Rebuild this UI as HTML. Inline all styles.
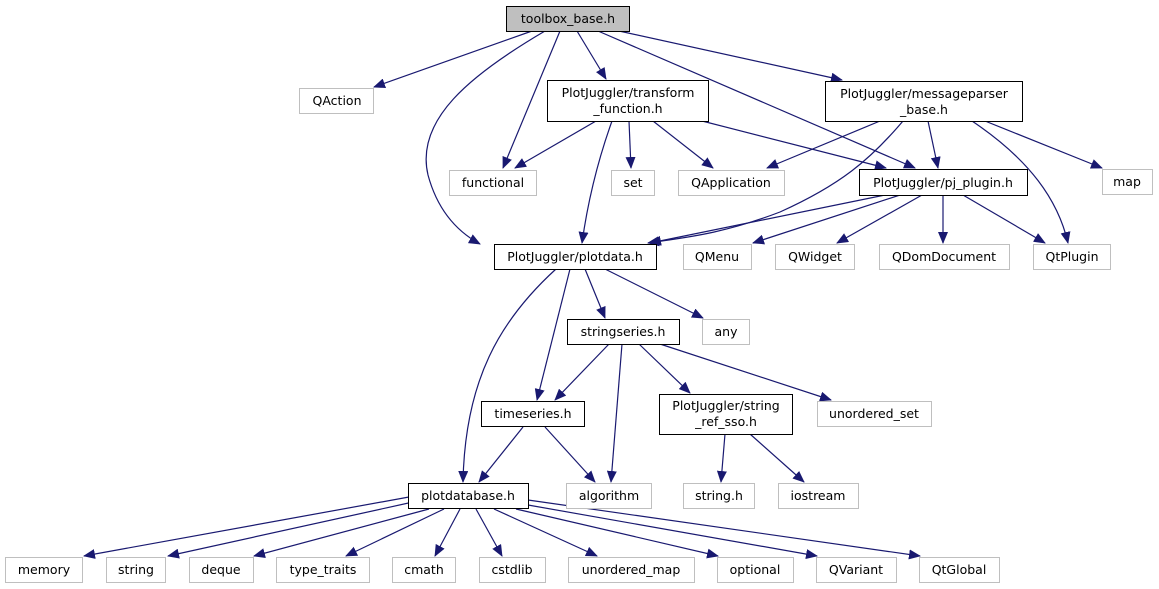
<!DOCTYPE html>
<html><head><meta charset="utf-8"><style>
html,body{margin:0;padding:0;background:#fff;}
svg{display:block;font-family:"DejaVu Sans","Liberation Sans",sans-serif;}
</style></head><body>
<svg width="1159" height="589" viewBox="0 0 1159 589" xmlns="http://www.w3.org/2000/svg">
<defs><marker id="a" markerWidth="12" markerHeight="10" refX="11" refY="5" orient="auto" markerUnits="userSpaceOnUse"><path d="M0,0 L12,5 L0,10 z" fill="#191970"/></marker></defs>
<g fill="none" stroke="#191970" stroke-width="1.2" marker-end="url(#a)">
<path d="M532,31 L374,87"/>
<path d="M545,31 C470,75 415,120 428,175 C438,212 458,232 480,244"/>
<path d="M560,31 L503,168"/>
<path d="M577,31 L606,79"/>
<path d="M598,31 L915,168"/>
<path d="M619,31 L842,80"/>
<path d="M596,121 L515,168"/>
<path d="M612,121 C598,160 588,200 582,243"/>
<path d="M629,121 L631,168"/>
<path d="M653,121 L713,168"/>
<path d="M702,121 L886,168"/>
<path d="M880,121 L767,168"/>
<path d="M903,121 C870,160 840,185 780,212 C720,235 680,238 648,243"/>
<path d="M928,121 L938,168"/>
<path d="M972,121 C1030,160 1058,200 1068,243"/>
<path d="M985,121 L1102,168"/>
<path d="M885,195 L650,243"/>
<path d="M900,195 L753,243"/>
<path d="M922,195 L837,243"/>
<path d="M943,195 L943,243"/>
<path d="M963,195 L1045,243"/>
<path d="M556,269 C500,320 465,380 463,482"/>
<path d="M570,269 L537,400"/>
<path d="M585,269 L605,318"/>
<path d="M605,269 L703,318"/>
<path d="M609,344 L555,400"/>
<path d="M622,344 L611,482"/>
<path d="M639,344 L690,393"/>
<path d="M660,344 L831,400"/>
<path d="M523,427 L479,482"/>
<path d="M545,427 L595,482"/>
<path d="M725,434 L721,482"/>
<path d="M750,434 L804,482"/>
<path d="M409,497 L84,556"/>
<path d="M413,502 L168,556"/>
<path d="M429,509 L254,556"/>
<path d="M444,509 L346,556"/>
<path d="M460,509 L435,556"/>
<path d="M476,509 L502,556"/>
<path d="M494,509 L597,556"/>
<path d="M516,509 L718,556"/>
<path d="M528,505 L817,556"/>
<path d="M528,500 L920,556"/>
</g>
<g font-size="12.5" text-anchor="middle" fill="#000">
<rect x="506.5" y="6.5" width="123" height="25" fill="#bfbfbf" stroke="#000"/><text x="568" y="23">toolbox_base.h</text>
<rect x="299.5" y="88.5" width="74" height="25" fill="#fff" stroke="#bfbfbf"/><text x="337" y="105">QAction</text>
<rect x="547.5" y="80.5" width="161" height="41" fill="#fff" stroke="#000"/><text x="628" y="97">PlotJuggler/transform</text><text x="628" y="113">_function.h</text>
<rect x="825.5" y="81.5" width="197" height="40" fill="#fff" stroke="#000"/><text x="924" y="98">PlotJuggler/messageparser</text><text x="924" y="114">_base.h</text>
<rect x="449.5" y="170.5" width="87" height="25" fill="#fff" stroke="#bfbfbf"/><text x="493" y="187">functional</text>
<rect x="611.5" y="170.5" width="43" height="25" fill="#fff" stroke="#bfbfbf"/><text x="633" y="187">set</text>
<rect x="678.5" y="170.5" width="106" height="25" fill="#fff" stroke="#bfbfbf"/><text x="731" y="187">QApplication</text>
<rect x="859.5" y="169.5" width="168" height="26" fill="#fff" stroke="#000"/><text x="943" y="187">PlotJuggler/pj_plugin.h</text>
<rect x="1102.5" y="169.5" width="50" height="25" fill="#fff" stroke="#bfbfbf"/><text x="1127" y="186">map</text>
<rect x="494.5" y="244.5" width="162" height="25" fill="#fff" stroke="#000"/><text x="575" y="261">PlotJuggler/plotdata.h</text>
<rect x="683.5" y="244.5" width="68" height="25" fill="#fff" stroke="#bfbfbf"/><text x="717" y="261">QMenu</text>
<rect x="775.5" y="244.5" width="79" height="25" fill="#fff" stroke="#bfbfbf"/><text x="815" y="261">QWidget</text>
<rect x="879.5" y="244.5" width="130" height="25" fill="#fff" stroke="#bfbfbf"/><text x="944" y="261">QDomDocument</text>
<rect x="1033.5" y="244.5" width="77" height="25" fill="#fff" stroke="#bfbfbf"/><text x="1072" y="261">QtPlugin</text>
<rect x="567.5" y="319.5" width="112" height="25" fill="#fff" stroke="#000"/><text x="623" y="336">stringseries.h</text>
<rect x="702.5" y="319.5" width="47" height="25" fill="#fff" stroke="#bfbfbf"/><text x="726" y="336">any</text>
<rect x="481.5" y="401.5" width="103" height="25" fill="#fff" stroke="#000"/><text x="533" y="418">timeseries.h</text>
<rect x="659.5" y="394.5" width="133" height="40" fill="#fff" stroke="#000"/><text x="726" y="410">PlotJuggler/string</text><text x="726" y="426">_ref_sso.h</text>
<rect x="817.5" y="401.5" width="114" height="25" fill="#fff" stroke="#bfbfbf"/><text x="874" y="418">unordered_set</text>
<rect x="408.5" y="483.5" width="120" height="25" fill="#fff" stroke="#000"/><text x="468" y="500">plotdatabase.h</text>
<rect x="566.5" y="483.5" width="85" height="25" fill="#fff" stroke="#bfbfbf"/><text x="609" y="500">algorithm</text>
<rect x="683.5" y="483.5" width="71" height="25" fill="#fff" stroke="#bfbfbf"/><text x="719" y="500">string.h</text>
<rect x="778.5" y="483.5" width="80" height="25" fill="#fff" stroke="#bfbfbf"/><text x="818" y="500">iostream</text>
<rect x="5.5" y="557.5" width="77" height="25" fill="#fff" stroke="#bfbfbf"/><text x="44" y="574">memory</text>
<rect x="106.5" y="557.5" width="59" height="25" fill="#fff" stroke="#bfbfbf"/><text x="136" y="574">string</text>
<rect x="189.5" y="557.5" width="64" height="25" fill="#fff" stroke="#bfbfbf"/><text x="221" y="574">deque</text>
<rect x="276.5" y="557.5" width="93" height="25" fill="#fff" stroke="#bfbfbf"/><text x="323" y="574">type_traits</text>
<rect x="392.5" y="557.5" width="63" height="25" fill="#fff" stroke="#bfbfbf"/><text x="424" y="574">cmath</text>
<rect x="479.5" y="557.5" width="66" height="25" fill="#fff" stroke="#bfbfbf"/><text x="512" y="574">cstdlib</text>
<rect x="568.5" y="557.5" width="126" height="25" fill="#fff" stroke="#bfbfbf"/><text x="631" y="574">unordered_map</text>
<rect x="717.5" y="557.5" width="76" height="25" fill="#fff" stroke="#bfbfbf"/><text x="755" y="574">optional</text>
<rect x="816.5" y="557.5" width="80" height="25" fill="#fff" stroke="#bfbfbf"/><text x="856" y="574">QVariant</text>
<rect x="919.5" y="557.5" width="80" height="25" fill="#fff" stroke="#bfbfbf"/><text x="959" y="574">QtGlobal</text>
</g>
</svg>
</body></html>
